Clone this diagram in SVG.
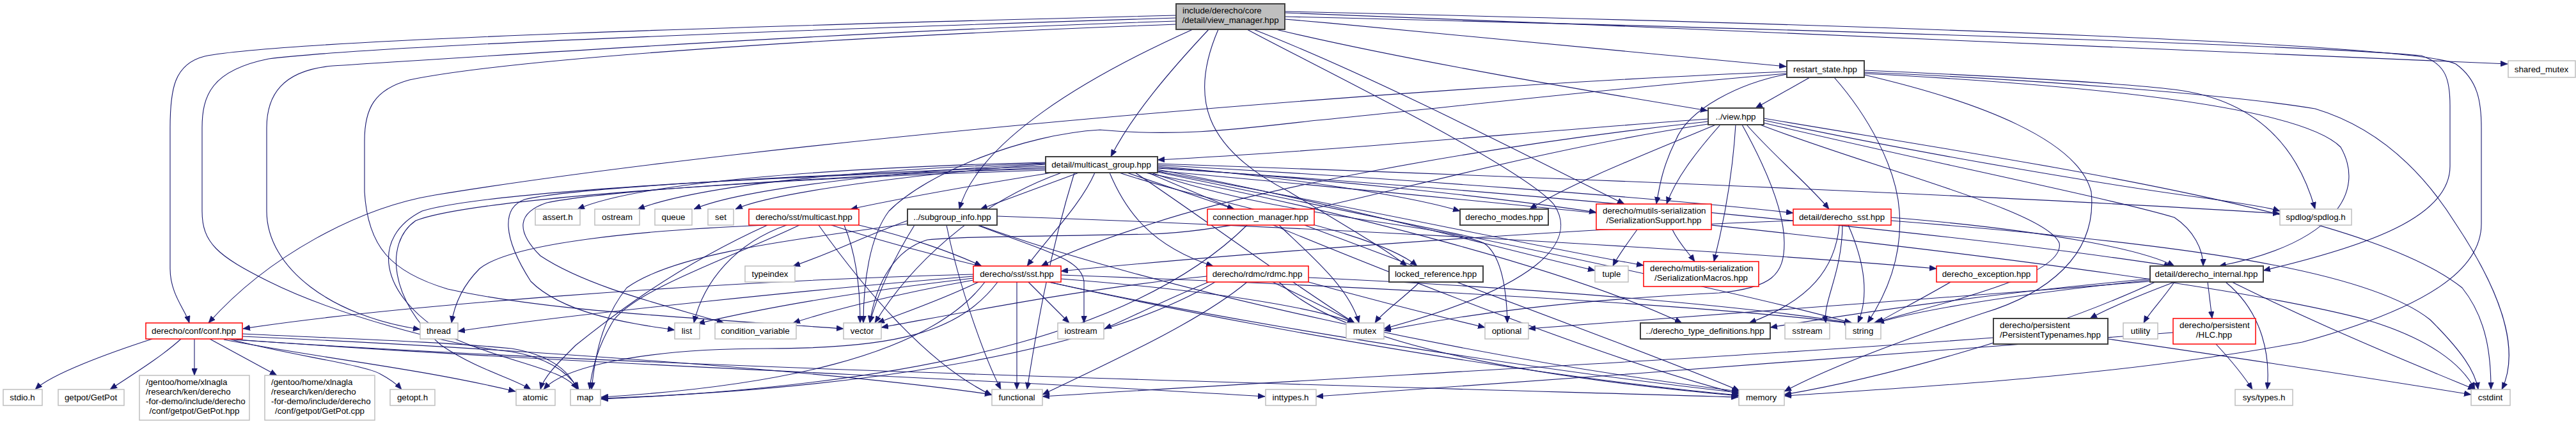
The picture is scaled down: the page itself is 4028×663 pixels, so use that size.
<svg xmlns="http://www.w3.org/2000/svg" width="4028" height="663" viewBox="0 0 4028 663">
<style>
text{font-family:"Liberation Sans",Arial,sans-serif;font-size:13.33px;fill:#000}
.c{text-anchor:middle}
.gy{fill:#fff;stroke:#bfbfbf;stroke-width:1.5}
.bk{fill:#fff;stroke:#404040;stroke-width:2}
.rd{fill:#fff;stroke:#ff0000;stroke-width:1.5}
.rt{fill:#bfbfbf;stroke:#404040;stroke-width:2}
#edges path{fill:none;stroke:#191970;stroke-width:1.1;marker-end:url(#ah)}
</style>
<defs>
<marker id="ah" viewBox="0 0 11 9" refX="11" refY="4.5" markerWidth="11" markerHeight="9" orient="auto" markerUnits="userSpaceOnUse">
<path d="M0,0 L11,4.5 L0,9 z" fill="#191970" stroke="#191970" stroke-width="0.5"/>
</marker>
</defs>
<rect width="4028" height="663" fill="#fff"/>
<g id="edges">
<path d="M2009,30 C2300,55 2600,85 2793,104"/>
<path d="M2009,20 C2700,45 3500,85 3921,100"/>
<path d="M1995,46 C2200,95 2500,145 2670,173"/>
<path d="M1890,46 C1830,110 1770,180 1737,245"/>
<path d="M1865,46 C1700,120 1530,220 1500,327"/>
<path d="M1839,24 C1200,40 450,62 320,88 C272,100 266,140 266,200 L266,420 C266,460 290,485 296,505"/>
<path d="M1839,28 C1300,45 600,70 420,92 C330,110 316,150 316,200 L316,330 C316,380 340,400 420,440 C520,490 700,540 800,550 C860,560 890,585 905,609"/>
<path d="M1839,33 C1300,50 700,92 520,103 C440,110 417,150 417,200 L417,330 C417,420 520,495 657,515"/>
<path d="M1839,38 C1300,58 800,92 640,125 C585,140 570,170 570,220 L570,300 C575,385 610,425 700,452 C850,485 1050,495 1319,514"/>
<path d="M1960,46 C2150,120 2400,250 2540,319"/>
<path d="M1950,46 C2050,100 2380,260 2430,320 C2470,380 2400,450 2164,514"/>
<path d="M1905,46 C1860,150 1880,230 2016,300 C2090,345 2160,385 2200,416"/>
<path d="M2009,26 C2800,45 3600,70 3786,87 C3825,100 3831,125 3831,165 L3831,260 C3831,340 3700,385 3539,423"/>
<path d="M2009,18 C3000,40 3780,70 3840,100 C3875,125 3880,160 3880,200 L3880,350 C3880,420 3800,480 3600,535 C3300,590 3000,605 2790,619"/>
<path d="M2830,121 L2745,169"/>
<path d="M2794,112 C2200,135 1200,220 680,305 C560,325 420,400 326,505"/>
<path d="M2794,116 C2720,130 2640,170 2620,220 C2600,260 2595,290 2590,319"/>
<path d="M2794,115 C2500,140 2200,175 2060,188 C1950,200 1850,215 1720,203 C1600,210 1450,270 1390,330 C1360,370 1350,440 1350,505"/>
<path d="M2915,110 C3100,118 3300,128 3400,140 C3520,155 3590,220 3620,327"/>
<path d="M2915,113 C3200,125 3500,150 3620,170 C3720,200 3790,270 3840,350 C3900,440 3945,540 3912,609"/>
<path d="M2868,121 C2920,180 2965,260 2970,330 C2975,400 2950,460 2920,505"/>
<path d="M2915,117 C3100,160 3250,220 3270,300 C3280,400 3200,460 3100,490 C2950,540 2850,580 2790,612"/>
<path d="M2915,115 C3300,135 3600,170 3660,230 C3700,300 3650,380 3470,416"/>
<path d="M2671,186 C2400,205 2100,235 1810,250"/>
<path d="M2671,190 C2300,230 1950,300 1800,350 C1720,375 1660,400 1628,416"/>
<path d="M2683,195 C2550,250 2450,290 2392,327"/>
<path d="M2690,195 C2650,240 2620,280 2606,319"/>
<path d="M2731,195 C2780,250 2830,290 2860,327"/>
<path d="M2714,195 C2710,260 2700,330 2680,409"/>
<path d="M2724,195 C2760,260 2790,330 2790,380 C2790,430 2770,450 2688,458 C2450,470 2300,490 2164,517"/>
<path d="M2752,195 C2950,270 3200,330 3220,380 C3230,430 3050,470 2930,505"/>
<path d="M2757,192 C3000,250 3300,310 3400,340 C3430,360 3445,390 3445,416"/>
<path d="M2758,188 C3000,240 3300,290 3450,310 C3520,320 3550,325 3565,330"/>
<path d="M2758,185 C3200,260 3700,330 3850,450 C3890,500 3895,560 3895,609"/>
<path d="M2671,194 C2300,250 2000,360 1800,366 C1600,370 1500,370 1450,375 C1400,390 1370,440 1360,505"/>
<path d="M1635,254 C1300,262 1000,285 903,327"/>
<path d="M1635,255 C1350,265 1100,288 997,327"/>
<path d="M1635,256 C1400,268 1160,295 1085,327"/>
<path d="M1635,257 C1450,270 1210,300 1150,327"/>
<path d="M1645,270 C1520,290 1400,312 1330,327"/>
<path d="M1687,270 L1533,327"/>
<path d="M1762,270 L1930,327"/>
<path d="M1810,260 C2000,275 2200,305 2283,330"/>
<path d="M1810,262 C2100,282 2350,310 2496,332"/>
<path d="M1810,258 C2200,280 2600,310 2804,333"/>
<path d="M1810,256 C2500,280 3200,310 3565,334"/>
<path d="M1712,270 C1690,320 1640,370 1606,416"/>
<path d="M1735,270 C1760,330 1800,385 1897,416"/>
<path d="M1750,270 C1900,320 2150,360 2216,416"/>
<path d="M1810,265 C2100,320 2350,390 2494,423"/>
<path d="M1810,268 C2100,320 2400,385 2570,415"/>
<path d="M1810,263 C2400,300 3100,370 3395,416"/>
<path d="M1790,270 C2100,330 2450,420 2630,505"/>
<path d="M1800,270 C2000,340 2250,350 2320,380 C2350,400 2356,460 2357,505"/>
<path d="M1635,260 C1300,272 900,292 820,312 C785,325 785,370 830,440 C880,490 980,505 1055,516"/>
<path d="M1635,262 C1300,277 950,297 855,317 C810,332 805,360 845,400 C920,450 1050,480 1132,505"/>
<path d="M1635,264 C1200,275 760,300 660,330 C580,370 590,460 700,525 C800,570 880,575 903,609"/>
<path d="M1635,266 C1200,280 740,310 650,345 C600,380 610,470 690,540 C750,580 800,590 830,609"/>
<path d="M1660,270 C1520,320 1420,420 1368,505"/>
<path d="M1775,270 C1880,340 2000,430 2118,505"/>
<path d="M1795,270 C2100,400 2500,560 2719,616"/>
<path d="M1680,270 C1640,400 1620,520 1606,609"/>
<path d="M1810,267 C2500,330 3400,420 3700,500 C3800,530 3850,570 3870,609"/>
<path d="M1810,269 C2200,350 2700,450 2895,505"/>
<path d="M1419,345 C1350,370 1290,400 1240,416"/>
<path d="M1430,352 C1400,400 1375,450 1360,505"/>
<path d="M1528,352 C1640,395 1690,405 1695,440 L1695,505"/>
<path d="M1419,350 C1200,380 1050,400 980,450 C940,500 930,560 925,609"/>
<path d="M1530,352 C1800,450 2300,560 2719,612"/>
<path d="M1480,352 C1500,450 1540,560 1565,609"/>
<path d="M1559,338 C2200,360 2800,400 3028,420"/>
<path d="M1343,352 C1420,370 1490,395 1535,416"/>
<path d="M1200,352 C1000,360 800,380 750,420 C720,450 710,480 706,505"/>
<path d="M1230,352 C1150,380 1100,440 1085,505"/>
<path d="M1250,352 C1150,400 1000,450 960,500 C935,540 925,580 922,609"/>
<path d="M1280,352 C1350,450 1450,570 1551,618"/>
<path d="M1300,352 C1600,450 2300,580 2719,618"/>
<path d="M1320,352 C1340,400 1345,460 1345,505"/>
<path d="M1200,352 C1050,420 950,500 900,540 C870,570 850,590 845,609"/>
<path d="M1530,441 C1470,470 1410,490 1372,505"/>
<path d="M1608,441 L1672,505"/>
<path d="M1590,441 L1590,609"/>
<path d="M1522,432 C1300,450 900,490 716,518"/>
<path d="M1522,435 C1350,455 1200,480 1091,506"/>
<path d="M1522,438 C1400,460 1300,485 1240,505"/>
<path d="M1522,429 C1100,440 600,480 380,514"/>
<path d="M1560,441 C1500,520 1400,545 1200,545 C1000,545 880,575 850,609"/>
<path d="M1659,436 C1900,455 2050,480 2118,505"/>
<path d="M1659,430 C2200,450 2700,480 2895,506"/>
<path d="M1640,441 C2000,520 2500,590 2719,614"/>
<path d="M1540,441 C1450,560 1200,605 940,621"/>
<path d="M1887,432 C1700,450 1500,490 1378,512"/>
<path d="M1950,441 C1880,500 1750,560 1630,617"/>
<path d="M1990,441 C2050,470 2090,490 2118,505"/>
<path d="M2046,441 C2150,470 2250,495 2322,512"/>
<path d="M2000,441 C2100,540 2400,590 2719,619"/>
<path d="M1890,441 C1820,470 1760,500 1727,514"/>
<path d="M1900,441 C1700,560 1300,610 940,623"/>
<path d="M2046,434 C2400,450 2750,480 2898,506"/>
<path d="M2000,352 C2050,400 2110,450 2125,505"/>
<path d="M1950,352 C1800,500 1500,600 940,624"/>
<path d="M2040,352 C2300,450 2600,560 2720,611"/>
<path d="M2220,441 C2190,470 2160,490 2150,505"/>
<path d="M2560,359 C2545,380 2530,400 2522,416"/>
<path d="M2615,359 C2625,380 2640,395 2650,409"/>
<path d="M2804,345 C2400,360 1900,400 1659,424"/>
<path d="M2876,352 C2870,420 2830,470 2735,505"/>
<path d="M2881,352 C2880,430 2850,470 2855,505"/>
<path d="M2890,352 C2920,420 2920,470 2905,505"/>
<path d="M2957,340 C3200,360 3350,390 3400,416"/>
<path d="M2957,345 C3400,380 3700,420 3800,500 C3850,550 3870,580 3875,609"/>
<path d="M3050,441 C3000,470 2960,490 2935,505"/>
<path d="M3400,441 C3380,470 3360,490 3352,505"/>
<path d="M3452,441 L3459,498"/>
<path d="M3400,441 C3350,460 3300,480 3268,498"/>
<path d="M3480,441 C3540,490 3550,560 3545,609"/>
<path d="M3490,441 C3650,520 3800,580 3870,609"/>
<path d="M3362,436 C3100,460 2900,490 2768,512"/>
<path d="M3362,438 C3150,460 3000,485 2935,505"/>
<path d="M3370,441 C3200,520 2950,590 2790,617"/>
<path d="M3362,440 C3000,470 2600,495 2390,514"/>
<path d="M3296,530 C3500,560 3700,590 3864,617"/>
<path d="M3117,528 C2700,560 2100,590 1630,620"/>
<path d="M3465,538 C3490,565 3510,590 3522,609"/>
<path d="M3398,520 C3000,550 2500,590 2058,620"/>
<path d="M238,530 C170,552 80,585 55,609"/>
<path d="M283,530 C250,560 200,590 172,609"/>
<path d="M304,530 L304,587"/>
<path d="M328,530 L433,587"/>
<path d="M358,530 C450,555 570,570 595,585 C610,593 620,600 628,609"/>
<path d="M379,522 C550,530 700,535 800,545 C860,555 890,580 903,609"/>
<path d="M350,531 C500,560 650,575 806,612"/>
<path d="M379,526 C800,545 1300,580 1551,617"/>
<path d="M370,531 C900,570 1500,590 1978,620"/>
<path d="M365,531 C1000,575 2000,600 2718,621"/>
</g>
<g id="n_root"><rect class="rt" x="1839" y="6" width="170" height="40"/><text x="1849" y="21">include/derecho/core</text><text class="c" x="1924" y="36">/detail/view_manager.hpp</text></g>
<g id="n_restart"><rect class="bk" x="2794" y="95" width="121" height="26"/><text class="c" x="2854" y="112.5">restart_state.hpp</text></g>
<g id="n_shared_mutex"><rect class="gy" x="3922" y="95" width="105" height="26"/><text class="c" x="3974" y="112.5">shared_mutex</text></g>
<g id="n_view"><rect class="bk" x="2671" y="169" width="87" height="26"/><text class="c" x="2714" y="186.5">../view.hpp</text></g>
<g id="n_mcg"><rect class="bk" x="1635" y="245" width="175" height="25"/><text class="c" x="1722" y="262">detail/multicast_group.hpp</text></g>
<g id="n_assert"><rect class="gy" x="837" y="327" width="70" height="25"/><text class="c" x="872" y="344">assert.h</text></g>
<g id="n_ostream"><rect class="gy" x="930" y="327" width="70" height="25"/><text class="c" x="965" y="344">ostream</text></g>
<g id="n_queue"><rect class="gy" x="1024" y="327" width="58" height="25"/><text class="c" x="1053" y="344">queue</text></g>
<g id="n_set"><rect class="gy" x="1107" y="327" width="40" height="25"/><text class="c" x="1127" y="344">set</text></g>
<g id="n_multicast"><rect class="rd" x="1171" y="327" width="172" height="25"/><text class="c" x="1257" y="344">derecho/sst/multicast.hpp</text></g>
<g id="n_subgroup"><rect class="bk" x="1419" y="327" width="140" height="25"/><text class="c" x="1489" y="344">../subgroup_info.hpp</text></g>
<g id="n_connmgr"><rect class="rd" x="1888" y="327" width="167" height="25"/><text class="c" x="1971" y="344">connection_manager.hpp</text></g>
<g id="n_modes"><rect class="bk" x="2283" y="327" width="138" height="25"/><text class="c" x="2352" y="344">derecho_modes.hpp</text></g>
<g id="n_sersup"><rect class="rd" x="2496" y="319" width="180" height="40"/><text x="2506" y="334">derecho/mutils-serialization</text><text class="c" x="2586" y="349">/SerializationSupport.hpp</text></g>
<g id="n_dsst"><rect class="rd" x="2804" y="327" width="153" height="25"/><text class="c" x="2880" y="344">detail/derecho_sst.hpp</text></g>
<g id="n_spdlog"><rect class="gy" x="3565" y="327" width="112" height="25"/><text class="c" x="3621" y="344">spdlog/spdlog.h</text></g>
<g id="n_typeindex"><rect class="gy" x="1165" y="416" width="78" height="25"/><text class="c" x="1204" y="433">typeindex</text></g>
<g id="n_sst"><rect class="rd" x="1522" y="416" width="137" height="25"/><text class="c" x="1590" y="433">derecho/sst/sst.hpp</text></g>
<g id="n_rdmc"><rect class="rd" x="1887" y="416" width="159" height="25"/><text class="c" x="1966" y="433">derecho/rdmc/rdmc.hpp</text></g>
<g id="n_lref"><rect class="bk" x="2172" y="416" width="147" height="25"/><text class="c" x="2245" y="433">locked_reference.hpp</text></g>
<g id="n_tuple"><rect class="gy" x="2494" y="416" width="52" height="25"/><text class="c" x="2520" y="433">tuple</text></g>
<g id="n_sermac"><rect class="rd" x="2570" y="409" width="180" height="39"/><text x="2580" y="424">derecho/mutils-serialization</text><text class="c" x="2660" y="439">/SerializationMacros.hpp</text></g>
<g id="n_exception"><rect class="rd" x="3028" y="416" width="157" height="25"/><text class="c" x="3106" y="433">derecho_exception.hpp</text></g>
<g id="n_internal"><rect class="bk" x="3362" y="416" width="177" height="25"/><text class="c" x="3450" y="433">detail/derecho_internal.hpp</text></g>
<g id="n_conf"><rect class="rd" x="228" y="505" width="151" height="25"/><text class="c" x="303" y="522">derecho/conf/conf.hpp</text></g>
<g id="n_thread"><rect class="gy" x="657" y="505" width="59" height="25"/><text class="c" x="686" y="522">thread</text></g>
<g id="n_list"><rect class="gy" x="1055" y="505" width="39" height="25"/><text class="c" x="1074" y="522">list</text></g>
<g id="n_condvar"><rect class="gy" x="1118" y="505" width="127" height="25"/><text class="c" x="1181" y="522">condition_variable</text></g>
<g id="n_vector"><rect class="gy" x="1319" y="505" width="59" height="25"/><text class="c" x="1348" y="522">vector</text></g>
<g id="n_iostream"><rect class="gy" x="1654" y="505" width="72" height="25"/><text class="c" x="1690" y="522">iostream</text></g>
<g id="n_mutex"><rect class="gy" x="2105" y="505" width="59" height="25"/><text class="c" x="2134" y="522">mutex</text></g>
<g id="n_optional"><rect class="gy" x="2322" y="505" width="68" height="25"/><text class="c" x="2356" y="522">optional</text></g>
<g id="n_typedefs"><rect class="bk" x="2565" y="505" width="203" height="25"/><text class="c" x="2666" y="522">../derecho_type_definitions.hpp</text></g>
<g id="n_sstream"><rect class="gy" x="2791" y="505" width="70" height="25"/><text class="c" x="2826" y="522">sstream</text></g>
<g id="n_string"><rect class="gy" x="2886" y="505" width="55" height="25"/><text class="c" x="2913" y="522">string</text></g>
<g id="n_ptypes"><rect class="bk" x="3117" y="498" width="179" height="40"/><text x="3127" y="513">derecho/persistent</text><text class="c" x="3206" y="528">/PersistentTypenames.hpp</text></g>
<g id="n_utility"><rect class="gy" x="3320" y="505" width="54" height="25"/><text class="c" x="3347" y="522">utility</text></g>
<g id="n_hlc"><rect class="rd" x="3398" y="498" width="129" height="40"/><text x="3408" y="513">derecho/persistent</text><text class="c" x="3462" y="528">/HLC.hpp</text></g>
<g id="n_stdio"><rect class="gy" x="5" y="609" width="61" height="25"/><text class="c" x="35" y="626">stdio.h</text></g>
<g id="n_getpot"><rect class="gy" x="91" y="609" width="103" height="25"/><text class="c" x="142" y="626">getpot/GetPot</text></g>
<g id="n_getpothpp"><rect class="gy" x="218" y="587" width="172" height="70"/><text x="228" y="602">/gentoo/home/xlnagla</text><text x="228" y="617">/research/ken/derecho</text><text x="228" y="632">-for-demo/include/derecho</text><text class="c" x="304" y="647">/conf/getpot/GetPot.hpp</text></g>
<g id="n_getpotcpp"><rect class="gy" x="414" y="587" width="172" height="70"/><text x="424" y="602">/gentoo/home/xlnagla</text><text x="424" y="617">/research/ken/derecho</text><text x="424" y="632">-for-demo/include/derecho</text><text class="c" x="500" y="647">/conf/getpot/GetPot.cpp</text></g>
<g id="n_getopt"><rect class="gy" x="610" y="609" width="70" height="25"/><text class="c" x="645" y="626">getopt.h</text></g>
<g id="n_atomic"><rect class="gy" x="807" y="609" width="61" height="25"/><text class="c" x="837" y="626">atomic</text></g>
<g id="n_map"><rect class="gy" x="892" y="609" width="47" height="25"/><text class="c" x="915" y="626">map</text></g>
<g id="n_functional"><rect class="gy" x="1551" y="609" width="79" height="25"/><text class="c" x="1590" y="626">functional</text></g>
<g id="n_inttypes"><rect class="gy" x="1979" y="609" width="79" height="25"/><text class="c" x="2018" y="626">inttypes.h</text></g>
<g id="n_memory"><rect class="gy" x="2719" y="609" width="71" height="25"/><text class="c" x="2754" y="626">memory</text></g>
<g id="n_systypes"><rect class="gy" x="3495" y="609" width="90" height="25"/><text class="c" x="3540" y="626">sys/types.h</text></g>
<g id="n_cstdint"><rect class="gy" x="3864" y="609" width="61" height="25"/><text class="c" x="3894" y="626">cstdint</text></g>
</svg>
